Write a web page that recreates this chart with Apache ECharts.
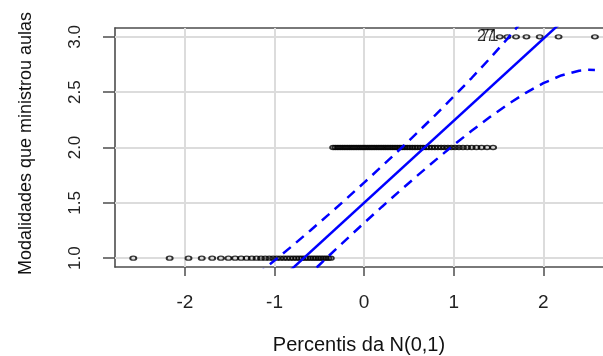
<!DOCTYPE html>
<html>
<head>
<meta charset="utf-8">
<script src="https://cdn.jsdelivr.net/npm/echarts@6/dist/echarts.min.js"></script>
<style>
  html, body { margin: 0; padding: 0; background: #fff; }
  #grafico { width: 603px; height: 356px; }
</style>
</head>
<body>
<div id="grafico"></div>
<script>
// Percentis teóricos da N(0,1) para as 100 observações ordenadas
const percentis = [
  -2.5758, -2.1701, -1.9600, -1.8119, -1.6954, -1.5982, -1.5141, -1.4395, -1.3722, -1.3106,
  -1.2536, -1.2004, -1.1503, -1.1031, -1.0581, -1.0152, -0.9741, -0.9346, -0.8965, -0.8596,
  -0.8239, -0.7892, -0.7554, -0.7225, -0.6903, -0.6588, -0.6280, -0.5978, -0.5681, -0.5388,
  -0.5101, -0.4817, -0.4538, -0.4261, -0.3989, -0.3719, -0.3451, -0.3186, -0.2924, -0.2663,
  -0.2404, -0.2147, -0.1891, -0.1637, -0.1383, -0.1130, -0.0878, -0.0627, -0.0376, -0.0125,
   0.0125,  0.0376,  0.0627,  0.0878,  0.1130,  0.1383,  0.1637,  0.1891,  0.2147,  0.2404,
   0.2663,  0.2924,  0.3186,  0.3451,  0.3719,  0.3989,  0.4261,  0.4538,  0.4817,  0.5101,
   0.5388,  0.5681,  0.5978,  0.6280,  0.6588,  0.6903,  0.7225,  0.7554,  0.7892,  0.8239,
   0.8596,  0.8965,  0.9346,  0.9741,  1.0152,  1.0581,  1.1031,  1.1503,  1.2004,  1.2536,
   1.3106,  1.3722,  1.4395,  1.5141,  1.5982,  1.6954,  1.8119,  1.9600,  2.1701,  2.5758
];

// Número de modalidades em que cada respondente ministrou aulas (ordenado)
const modalidades = [
  1, 1, 1, 1, 1, 1, 1, 1, 1, 1, 1, 1, 1, 1, 1, 1, 1, 1, 1, 1,
  1, 1, 1, 1, 1, 1, 1, 1, 1, 1, 1, 1, 1, 1, 1, 1, 2, 2, 2, 2,
  2, 2, 2, 2, 2, 2, 2, 2, 2, 2, 2, 2, 2, 2, 2, 2, 2, 2, 2, 2,
  2, 2, 2, 2, 2, 2, 2, 2, 2, 2, 2, 2, 2, 2, 2, 2, 2, 2, 2, 2,
  2, 2, 2, 2, 2, 2, 2, 2, 2, 2, 2, 2, 2, 3, 3, 3, 3, 3, 3, 3
];

// Observações identificadas no gráfico (posição na amostra ordenada -> rótulo)
const posicoesRotuladas = [93, 94];
const rotulos = ['27', '71'];

// Reta pelos quartis
const interceptoReta = 1.5;
const inclinacaoReta = 0.7413;

// Envelope de confiança de 95%
const envelopeZ = [-1.2, -1.0, -0.8, -0.6, -0.4, -0.2, 0.0, 0.2, 0.4, 0.6, 0.8, 1.0, 1.2, 1.4, 1.6, 1.8, 2.0, 2.2, 2.4, 2.5, 2.5758];
const envelopeSuperior = [0.849, 0.978, 1.112, 1.250, 1.391, 1.535, 1.682, 1.832, 1.984, 2.139, 2.298, 2.461, 2.628, 2.802, 2.984, 3.177, 3.384, 3.611, 3.864, 4.004, 4.118];
const envelopeInferior = [0.372, 0.539, 0.702, 0.861, 1.016, 1.168, 1.318, 1.465, 1.609, 1.750, 1.888, 2.022, 2.151, 2.273, 2.388, 2.492, 2.581, 2.651, 2.694, 2.702, 2.701];

// Marcas dos eixos
const ticksX = [-2, -1, 0, 1, 2];
const rotulosX = ['-2', '-1', '0', '1', '2'];
const ticksY = [1, 1.5, 2, 2.5, 3];
const rotulosY = ['1.0', '1.5', '2.0', '2.5', '3.0'];

// Faixa visível dos eixos
const limitesX = [-2.78, 2.666];
const limitesY = [0.92, 3.08];

const fonte = '"Liberation Sans", Arial, sans-serif';
const azul = '#0000ff';
const corMoldura = '#4d4d4d';

const pontos = percentis.map((z, i) => {
  const k = posicoesRotuladas.indexOf(i);
  const item = { value: [z, modalidades[i]] };
  if (k >= 0) {
    item.label = { show: true, formatter: rotulos[k], distance: k === 0 ? 1 : 5 };
  }
  return item;
});

const reta = limitesX.map(x => [x, interceptoReta + inclinacaoReta * x]);
const sup = envelopeZ.map((z, i) => [z, envelopeSuperior[i]]);
const inf = envelopeZ.map((z, i) => [z, envelopeInferior[i]]);

const chart = echarts.init(document.getElementById('grafico'), null, { renderer: 'canvas' });

chart.setOption({
  animation: false,
  backgroundColor: '#ffffff',
  grid: { left: 115, top: 28, right: 0, height: 239, containLabel: false, outerBoundsMode: 'none' },
  xAxis: [
    {
      type: 'value', min: limitesX[0], max: limitesX[1], position: 'bottom',
      name: 'Percentis da N(0,1)', nameLocation: 'middle', nameGap: 68,
      nameTextStyle: { fontFamily: fonte, fontSize: 20, color: '#111' },
      axisLine: { show: true, onZero: false, lineStyle: { color: corMoldura, width: 1.6 } },
      axisTick: { show: true, inside: false, length: 9, customValues: ticksX,
        lineStyle: { color: corMoldura, width: 1.5 } },
      axisLabel: { show: true, customValues: ticksX, margin: 26,
        formatter: v => rotulosX[ticksX.indexOf(v)] ?? '',
        fontFamily: fonte, fontSize: 19, color: '#222' },
      splitLine: { show: false }
    },
    {
      // aresta superior da moldura
      type: 'value', min: limitesX[0], max: limitesX[1], position: 'top',
      axisLine: { show: true, onZero: false, lineStyle: { color: corMoldura, width: 1.6 } },
      axisTick: { show: false }, axisLabel: { show: false }, splitLine: { show: false }
    }
  ],
  yAxis: {
    type: 'value', min: limitesY[0], max: limitesY[1],
    name: 'Modalidades que ministrou aulas', nameLocation: 'middle', nameGap: 80,
    nameTextStyle: { fontFamily: fonte, fontSize: 18, color: '#111', padding: [0, 0, 0, 8] },
    axisLine: { show: true, onZero: false, lineStyle: { color: corMoldura, width: 1.6 } },
    axisTick: { show: true, inside: false, length: 12, customValues: ticksY,
      lineStyle: { color: corMoldura, width: 1.5 } },
    axisLabel: { show: true, customValues: ticksY, margin: 31, rotate: 90,
      formatter: v => rotulosY[ticksY.indexOf(v)] ?? '',
      fontFamily: fonte, fontSize: 17, color: '#222' },
    splitLine: { show: false }
  },
  series: [
    {
      // linhas de grade nas marcas dos eixos
      type: 'line', data: [], silent: true,
      markLine: {
        z: 1, silent: true, symbol: ['none', 'none'], label: { show: false },
        lineStyle: { color: '#dcdcdc', width: 2, type: 'solid' },
        emphasis: { disabled: true },
        data: ticksY.map(v => ({ yAxis: v })).concat(ticksX.map(v => ({ xAxis: v })))
      }
    },
    {
      type: 'scatter', z: 2, data: pontos,
      symbol: 'circle', symbolSize: [6, 4],
      itemStyle: { color: 'transparent', borderColor: '#000', borderWidth: 1.6 },
      label: { show: false, position: 'left',
        fontFamily: fonte, fontSize: 16, color: '#000' }
    },
    {
      type: 'line', z: 3, data: reta, showSymbol: false, clip: true,
      lineStyle: { color: azul, width: 2.5 }
    },
    {
      type: 'line', z: 3, data: sup, showSymbol: false, clip: true,
      lineStyle: { color: azul, width: 2.5, type: [10, 7] }
    },
    {
      type: 'line', z: 3, data: inf, showSymbol: false, clip: true,
      lineStyle: { color: azul, width: 2.5, type: [10, 7] }
    }
  ]
});
</script>
</body>
</html>
